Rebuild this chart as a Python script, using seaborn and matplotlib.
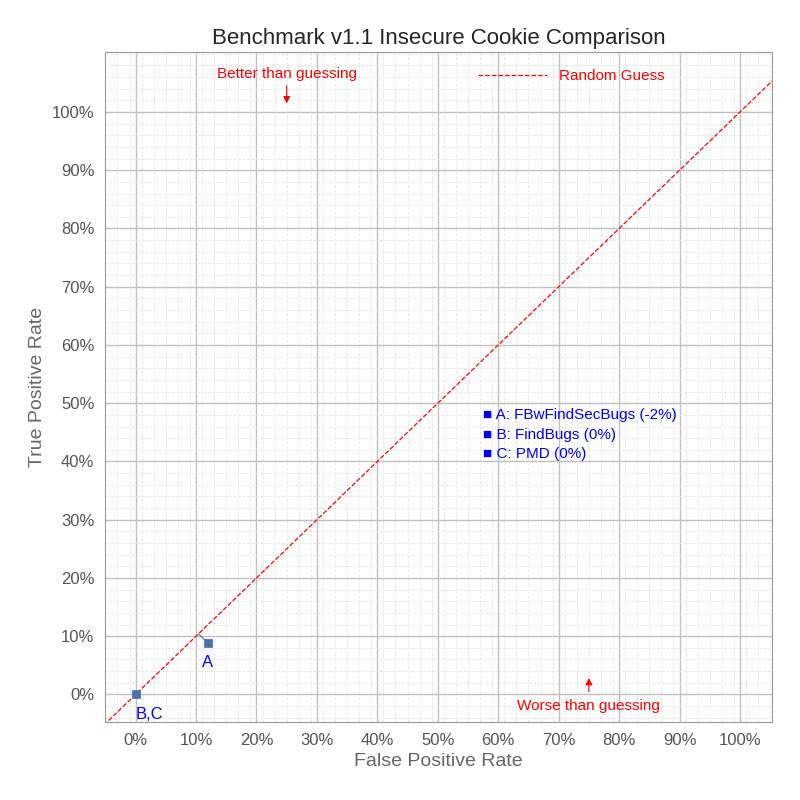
import matplotlib
matplotlib.use('Agg')
import matplotlib.pyplot as plt
import seaborn as sns
import numpy as np
import pandas as pd

# data
labels = ['A', 'B,C']
fpr = [11.9, 0.0]
tpr = [8.9, 0.0]
legend_lines = ['A: FBwFindSecBugs (-2%)', 'B: FindBugs (0%)', 'C: PMD (0%)']

sns.set_style('white')
plt.rcParams['font.family'] = ['Liberation Sans', 'DejaVu Sans']

fig, ax = plt.subplots(figsize=(8, 8), dpi=100)
fig.subplots_adjust(left=0.131, right=0.965, top=0.935, bottom=0.097)

ax.set_xlim(-5.1, 105.3)
ax.set_ylim(-4.8, 110.3)
ticks = np.arange(0, 101, 10)
ax.set_xticks(ticks)
ax.set_yticks(ticks)
ax.set_xticklabels([f'{t}%' for t in ticks], color='#555555', fontsize=12)
ax.set_yticklabels([f'{t}%' for t in ticks], color='#555555', fontsize=12)
ax.set_xticks(np.arange(-5, 106, 2), minor=True)
ax.set_yticks(np.arange(-4, 111, 2), minor=True)
ax.grid(True, which='major', color='#c0c0c0', lw=1)
ax.grid(True, which='minor', color='#e8e8e8', lw=0.6, ls='--')
ax.tick_params(which='minor', length=2, color='#999999')
ax.tick_params(which='major', length=4, color='#999999')
ax.set_axisbelow(True)
for s in ax.spines.values():
    s.set_color('#999999')

ax.plot([-10, 110], [-10, 110], ls='--', color='red', lw=0.9, label='Random Guess')

df = pd.DataFrame({'fpr': fpr, 'tpr': tpr, 'label': labels})
# short connector from point A to the diagonal
ax.plot([fpr[0], (fpr[0] + tpr[0]) / 2], [tpr[0], (fpr[0] + tpr[0]) / 2], color='#4a72a8', lw=0.8)
sns.scatterplot(data=df, x='fpr', y='tpr', ax=ax, marker='s', s=40,
                color='#4a72a8', edgecolor='#4a72a8', zorder=5)
for _, r in df.iterrows():
    ax.annotate(r['label'], (r['fpr'], r['tpr']), xytext=(0, -9),
                textcoords='offset points', ha='left' if r['label'] != 'A' else 'center',
                va='top', color='blue', fontsize=12)

for i, t in enumerate(legend_lines):
    ax.text(57.5, 48 - i * 3.4, '\u25a0 ' + t, color='blue', fontsize=11, va='center')

ax.text(25, 106.5, 'Better than guessing', color='red', fontsize=11, ha='center', va='center')
ax.annotate('', xy=(25, 101), xytext=(25, 105), arrowprops=dict(arrowstyle='-|>', color='red', lw=0.8))
ax.text(75, -2, 'Worse than guessing', color='red', fontsize=11, ha='center', va='center')
ax.annotate('', xy=(75, 3.3), xytext=(75, 0), arrowprops=dict(arrowstyle='-|>', color='red', lw=0.8))

leg = ax.legend(loc='upper right', bbox_to_anchor=(0.86, 0.995), frameon=False, fontsize=11,
                handlelength=4.5)
for t in leg.get_texts():
    t.set_color('red')

ax.set_xlabel('False Positive Rate', fontsize=14, color='#666666')
ax.set_ylabel('True Positive Rate', fontsize=14, color='#666666')
ax.set_title('Benchmark v1.1 Insecure Cookie Comparison', fontsize=16)

fig.savefig('out.png')
